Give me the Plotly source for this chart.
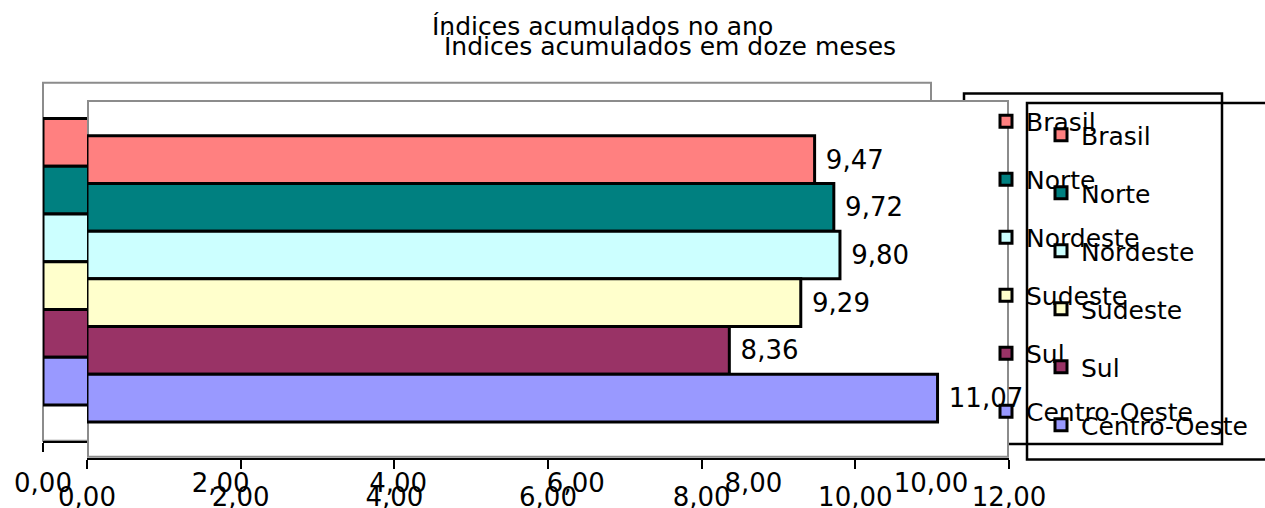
import plotly.graph_objects as go

# ---------------- data ----------------
regions = ["Brasil", "Norte", "Nordeste", "Sudeste", "Sul", "Centro-Oeste"]
colors = ["#FF8080", "#008080", "#CCFFFF", "#FFFFCC", "#993366", "#9999FF"]
# "acumulados no ano" bars are hidden behind the front chart: estimated values
ano_values = [7.06, 7.33, 7.45, 6.91, 6.02, 8.54]
doze_values = [9.47, 9.72, 9.80, 9.29, 8.36, 11.07]
back_ticks = [0, 2, 4, 6, 8, 10]
front_ticks = [0, 2, 4, 6, 8, 10, 12]
category = ["Índices"]
title_ano = "Índices acumulados no ano"
title_doze = "Índices acumulados em doze meses"

# ---------------- layout helpers ----------------
W, H = 1265, 508
FONT = "DejaVu Sans, Verdana, sans-serif"


def px(v):
    return v / W


def py(v):
    return 1 - v / H


back_x = [px(43), px(931)]
back_y = [py(440.7), py(82.7)]
front_x = [px(87), px(1009)]
front_y = [py(457.7), py(100)]

fig = go.Figure()

for i, r in enumerate(regions):
    fig.add_trace(go.Bar(
        y=category, x=[ano_values[i]], orientation="h", name=r,
        marker=dict(color=colors[i], line=dict(color="black", width=3)),
        xaxis="x", yaxis="y", legend="legend", legendgroup="ano" + r,
        texttemplate="\u00a0%{x:.2f}", textposition="outside",
        textfont=dict(size=26, color="black", family=FONT),
        cliponaxis=False, hoverinfo="skip",
    ))

for i, r in enumerate(regions):
    fig.add_trace(go.Bar(
        y=category, x=[doze_values[i]], orientation="h", name=r,
        marker=dict(color=colors[i], line=dict(color="black", width=3)),
        xaxis="x2", yaxis="y2", legend="legend2", legendgroup="doze" + r,
        texttemplate="\u00a0%{x:.2f}", textposition="outside",
        textfont=dict(size=26, color="black", family=FONT),
        cliponaxis=False, hoverinfo="skip",
    ))

xcommon = dict(
    tickformat=".2f", ticks="outside", ticklen=9, tickwidth=2, tickcolor="black",
    showline=True, linecolor="black", linewidth=2, showgrid=False, zeroline=False,
    tickfont=dict(size=26, color="black", family=FONT),
    automargin=False, fixedrange=True,
)
ycommon = dict(
    type="category", showticklabels=False, ticks="", showgrid=False,
    zeroline=False, showline=False, automargin=False, fixedrange=True,
)

legend_common = dict(
    xanchor="left", yanchor="top", bgcolor="rgba(0,0,0,0)", borderwidth=0,
    font=dict(size=25, color="black", family=FONT), traceorder="grouped",
    tracegroupgap=22.5, itemwidth=30, itemclick=False, itemdoubleclick=False,
)

fig.update_layout(
    width=W, height=H, autosize=False,
    margin=dict(l=0, r=0, t=0, b=0, pad=0),
    paper_bgcolor="white", plot_bgcolor="rgba(0,0,0,0)",
    separators=",.",
    barmode="group", bargap=0.2, bargroupgap=0,
    font=dict(family=FONT, color="black"),
    xaxis=dict(domain=back_x, range=[back_ticks[0], back_ticks[-1]],
               tickvals=back_ticks, anchor="y", ticklabelstandoff=9, **xcommon),
    yaxis=dict(domain=back_y, range=[0.5, -0.5], anchor="x", **ycommon),
    xaxis2=dict(domain=front_x, range=[front_ticks[0], front_ticks[-1]],
                tickvals=front_ticks, anchor="y2", ticklabelstandoff=6, **xcommon),
    yaxis2=dict(domain=front_y, range=[0.5, -0.5], anchor="x2", **ycommon),
    legend=dict(x=px(986), y=py(98.5), **legend_common),
    legend2=dict(x=px(1041), y=py(112), **legend_common),
    showlegend=True,
    annotations=[
        dict(text=title_ano, xref="paper", yref="paper", x=px(602), y=py(26),
             xanchor="center", yanchor="middle", showarrow=False,
             font=dict(size=25, color="black", family=FONT)),
        dict(text=title_doze, xref="paper", yref="paper", x=px(670), y=py(46),
             xanchor="center", yanchor="middle", showarrow=False,
             font=dict(size=25, color="black", family=FONT)),
    ],
    shapes=[
        # back plot-area border
        dict(type="rect", xref="paper", yref="paper", layer="below",
             x0=back_x[0], x1=back_x[1], y0=back_y[0], y1=back_y[1],
             line=dict(color="#8c8c8c", width=2), fillcolor="rgba(0,0,0,0)"),
        # back legend box
        dict(type="rect", xref="paper", yref="paper", layer="below",
             x0=px(964), x1=px(1222), y0=py(444), y1=py(93.5),
             line=dict(color="black", width=2.5), fillcolor="rgba(0,0,0,0)"),
        # front legend box
        dict(type="rect", xref="paper", yref="paper", layer="below",
             x0=px(1027), x1=px(1300), y0=py(459.5), y1=py(103),
             line=dict(color="black", width=2.5), fillcolor="rgba(0,0,0,0)"),
        # front plot area (opaque, hides the back chart)
        dict(type="rect", xref="x2", yref="y2", layer="between",
             x0=front_ticks[0], x1=front_ticks[-1], y0=-0.5, y1=0.5,
             line=dict(color="#8c8c8c", width=4), fillcolor="white"),
    ],
)

fig.write_html("out.html", config={"displayModeBar": False},
               post_script="document.body.style.margin='0';")
